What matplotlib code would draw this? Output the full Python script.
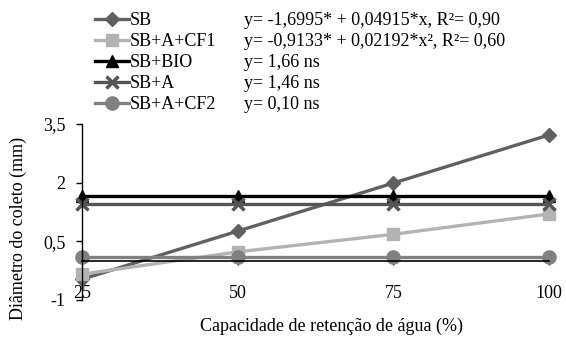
import matplotlib
matplotlib.use("Agg")
import matplotlib.pyplot as plt

plt.rcParams['font.family'] = ['Liberation Serif', 'DejaVu Serif']

categories = ["25", "50", "75", "100"]
series_names = ["SB", "SB+A+CF1", "SB+BIO", "SB+A", "SB+A+CF2"]
sb = [-0.47, 0.76, 1.99, 3.22]
sb_a_cf1 = [-0.34, 0.23, 0.68, 1.20]
sb_bio = [1.66, 1.66, 1.66, 1.66]
sb_a = [1.46, 1.46, 1.46, 1.46]
sb_a_cf2 = [0.10, 0.10, 0.10, 0.10]
equations = ["y= -1,6995* + 0,04915*x, R²= 0,90",
             "y= -0,9133* + 0,02192*x², R²= 0,60",
             "y= 1,66 ns",
             "y= 1,46 ns",
             "y= 0,10 ns"]
yticks = [-1, 0.5, 2, 3.5]
ytick_labels = ["-1", "0,5", "2", "3,5"]

W, H = 566, 337
fig = plt.figure(figsize=(W / 100, H / 100), dpi=100)
ax = fig.add_axes([82 / W, (H - 300) / H, (549 - 82) / W, (300 - 124) / H])

styles = [
    dict(color="#606060", marker="D", ms=7.5),
    dict(color="#b3b3b3", marker="s", ms=9),
    dict(color="#000000", marker="^", ms=9),
    dict(color="#555555", marker="x", ms=8, mew=2.5),
    dict(color="#808080", marker="o", ms=9.5),
]
data = [sb, sb_a_cf1, sb_bio, sb_a, sb_a_cf2]
x = list(range(len(categories)))
handles = []
for name, vals, st in zip(series_names, data, styles):
    h, = ax.plot(x, vals, lw=2.4, label=name, clip_on=False, **st)
    handles.append(h)

ax.set_xlim(0, 3)
ax.set_ylim(-1, 3.5)
ax.set_yticks(yticks)
ax.set_yticklabels(ytick_labels)
ax.set_xticks(x)
ax.set_xticklabels(categories)
for s in ["top", "right"]:
    ax.spines[s].set_visible(False)
ax.spines["bottom"].set_position(("data", 0))
ax.spines["left"].set_linewidth(1.0)
ax.spines["bottom"].set_linewidth(1.2)
ax.tick_params(axis="y", direction="out", length=4, width=1, labelsize=13, pad=8)
ax.tick_params(axis="x", direction="out", length=3, width=1, labelsize=13, pad=14)

fig.text(18 / W, 1 - 228 / H, "Diâmetro do coleto (mm)", rotation=90,
         ha="center", va="center", fontsize=13)
fig.text(331 / W, 1 - 326 / H, "Capacidade de retenção de água (%)",
         ha="center", va="center", fontsize=13)

leg = fig.legend(handles=handles, labels=series_names, loc="upper left",
                 bbox_to_anchor=(95 / W, 1 - 12 / H), frameon=False,
                 fontsize=13, handlelength=1.9, handletextpad=0.05,
                 labelspacing=0.22, borderpad=0, borderaxespad=0)

fig.canvas.draw()
inv = fig.transFigure.inverted()
for t, eq in zip(leg.get_texts(), equations):
    bb = t.get_window_extent()
    yc = inv.transform(((bb.x0 + bb.x1) / 2, (bb.y0 + bb.y1) / 2))[1]
    fig.text(244 / W, yc, eq, ha="left", va="center", fontsize=13)

fig.savefig("out.png", dpi=100)
